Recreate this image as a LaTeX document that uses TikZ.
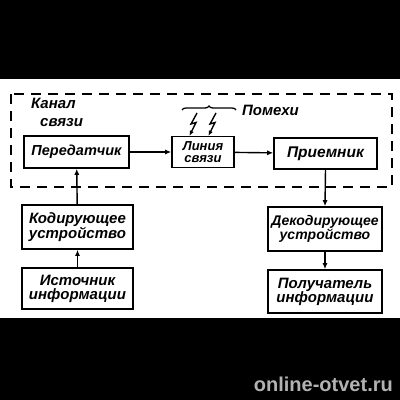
\documentclass[tikz,border=0pt]{standalone}
\usepackage{fontspec}
\setmainfont{Liberation Sans}
\usepackage{tikz}
\usetikzlibrary{arrows.meta}
\usetikzlibrary{decorations.pathreplacing}
\newcommand*{\molniya}[2]{\draw[line width=1.4pt,-{Latex[length=5pt,width=4.5pt]}](#1)--++(-6,11)--++(5,-1.5)--(#2);}

\begin{document}
\begin{tikzpicture}[x=1pt,y=-1pt,
  blok/.style={draw,line width=1.6pt,inner sep=1pt,align=center,font=\fontsize{15}{14}\selectfont\bfseries\itshape},
  strelka/.style={line width=1.4pt,-{Latex[length=6pt,width=5pt]}}]
\useasboundingbox(0,0)rectangle(400,400);
\fill[black](0,0)rectangle(400,400);
\fill[white](0,79)rectangle(400,318);
% канал связи
\draw[line width=1.8pt,dash pattern=on 10pt off 7pt](11,94)rectangle(392,187);
\node[align=left,anchor=north west,inner sep=0,font=\fontsize{15}{18}\selectfont\bfseries\itshape](kanal)at(31,98){Канал\\\hspace*{9pt}связи};
\node[blok,minimum width=105,minimum height=32,font=\fontsize{14.5}{14}\selectfont\bfseries\itshape](peredatchik)at(76.5,152){Передатчик};
\node[blok,minimum width=62,minimum height=31,font=\fontsize{13}{12.5}\selectfont\bfseries\itshape](liniya)at(203,152){Линия\\связи};
\node[blok,minimum width=103,minimum height=31,font=\fontsize{15.5}{14}\selectfont\bfseries\itshape](priemnik)at(325.5,153.5){Приемник};
\node[blok,minimum width=111,minimum height=44](koder)at(77.5,227){Кодирующее\\устройство};
\node[blok,minimum width=111,minimum height=41](istochnik)at(77.5,288.5){Источник\\информации};
\node[blok,minimum width=114,minimum height=44,font=\fontsize{14}{14}\selectfont\bfseries\itshape](dekoder)at(325,229){Декодирующее\\устройство};
\node[blok,minimum width=114,minimum height=43](poluchatel)at(325,291.5){Получатель\\информации};
\draw[strelka](peredatchik)--(liniya);
\draw[strelka](liniya)--(priemnik);
\draw[strelka](istochnik)--(koder);
\draw[strelka](koder)--(peredatchik);
\draw[strelka](priemnik.south)--(dekoder.north);
\draw[strelka](dekoder)--(poluchatel);
% помехи
\coordinate(m1)at(197,113);\coordinate(m2)at(216,113);
\path(liniya.north)++(-13.5,0)coordinate(k1);
\path(liniya.north)++(5.5,0)coordinate(k2);
\molniya{m1}{k1}
\molniya{m2}{k2}
\draw[line width=1.3pt,decoration={brace,amplitude=4pt},decorate](182,110)--(236,110);
\node[font=\fontsize{15}{14}\selectfont\bfseries\itshape,anchor=west,inner sep=0](pomehi)at(242,110){Помехи};
\node[font=\fontsize{20}{20}\selectfont\bfseries,text=black!30,anchor=base east,inner sep=0](vodyanoj)at(393,391){online-otvet.ru};
\end{tikzpicture}
\end{document}
